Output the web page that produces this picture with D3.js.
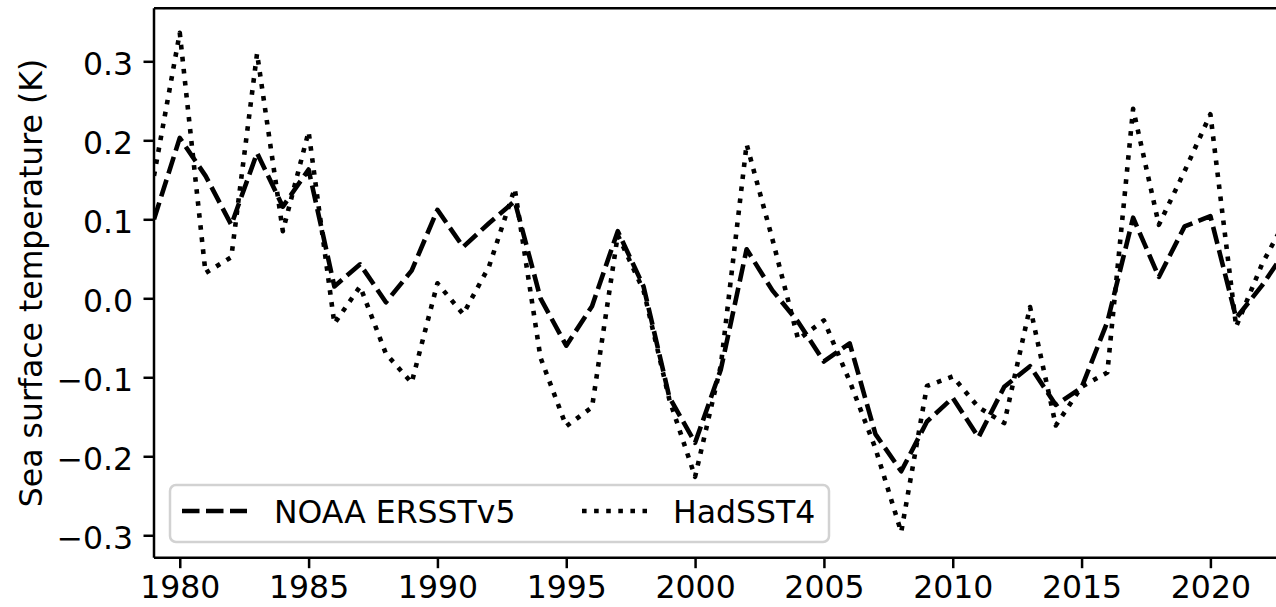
<!DOCTYPE html>
<html>
<head>
<meta charset="utf-8">
<script src="https://cdn.jsdelivr.net/npm/d3@7"></script>
<style>
  html, body { margin: 0; padding: 0; background: #fff; }
  svg { display: block; }
  text { font-family: "DejaVu Sans", sans-serif; fill: #000; }
</style>
</head>
<body>
<svg id="chart" width="1276" height="607"></svg>
<script>
// Annual sea surface temperature anomalies (K), 1979–2023
const years = d3.range(1979, 2024);

const ersstv5 = [
  0.100, 0.203, 0.155, 0.093, 0.184, 0.116, 0.163, 0.015, 0.043, -0.005,
  0.035, 0.112, 0.065, 0.095, 0.123, 0.000, -0.060, -0.010, 0.085, 0.015,
  -0.125, -0.183, -0.090, 0.062, 0.010, -0.030, -0.080, -0.057, -0.172, -0.219,
  -0.156, -0.126, -0.176, -0.112, -0.086, -0.135, -0.113, -0.030, 0.102, 0.027,
  0.091, 0.104, -0.025, 0.016, 0.064
];

const hadsst4 = [
  0.155, 0.336, 0.032, 0.052, 0.310, 0.085, 0.211, -0.032, 0.015, -0.070,
  -0.107, 0.019, -0.020, 0.040, 0.139, -0.075, -0.162, -0.138, 0.080, 0.010,
  -0.128, -0.226, -0.085, 0.195, 0.075, -0.052, -0.028, -0.105, -0.190, -0.296,
  -0.111, -0.099, -0.138, -0.158, -0.011, -0.161, -0.112, -0.094, 0.240, 0.093,
  0.161, 0.233, -0.036, 0.043, 0.104
];

const xTicks = [1980, 1985, 1990, 1995, 2000, 2005, 2010, 2015, 2020];
const yTicks = [-0.3, -0.2, -0.1, 0.0, 0.1, 0.2, 0.3];

const seriesNames = ["NOAA ERSSTv5", "HadSST4"];

// layout
const plotLeft = 154, plotRight = 1287.7, plotTop = 8.3, plotBottom = 557.7;
const fontSize = 31.5;
const lw = 4.6;
const dashPattern = "17.5,6.5";
const dotPattern = "4.6,7.5";

const svg = d3.select("#chart");
svg.append("rect").attr("width", 1276).attr("height", 607).attr("fill", "#fff");

const x = d3.scaleLinear().domain([1979, 2023]).range([plotLeft, plotRight]);
const y = d3.scaleLinear().domain([-0.3284, 0.3671]).range([plotBottom, plotTop]);

svg.append("defs").append("clipPath").attr("id", "plot-area")
  .append("rect")
  .attr("x", plotLeft).attr("y", plotTop)
  .attr("width", plotRight - plotLeft).attr("height", plotBottom - plotTop);

const line = d3.line().x(d => x(d[0])).y(d => y(d[1]));

const plot = svg.append("g").attr("clip-path", "url(#plot-area)");

plot.append("path")
  .datum(years.map((yr, i) => [yr, ersstv5[i]]))
  .attr("d", line)
  .attr("fill", "none")
  .attr("stroke", "#000")
  .attr("stroke-width", lw)
  .attr("stroke-dasharray", dashPattern)
  .attr("stroke-linejoin", "round")
  .attr("stroke-linecap", "butt");

plot.append("path")
  .datum(years.map((yr, i) => [yr, hadsst4[i]]))
  .attr("d", line)
  .attr("fill", "none")
  .attr("stroke", "#000")
  .attr("stroke-width", lw)
  .attr("stroke-dasharray", dotPattern)
  .attr("stroke-linejoin", "round")
  .attr("stroke-linecap", "butt");

// axes
const tickLen = 10.5, tickPad = 10.5;
const fmtY = d3.format(".1f");

const gx = svg.append("g")
  .attr("transform", `translate(0,${plotBottom})`)
  .call(d3.axisBottom(x).tickValues(xTicks).tickFormat(d3.format("d"))
    .tickSize(tickLen).tickPadding(tickPad));

const gy = svg.append("g")
  .attr("transform", `translate(${plotLeft},0)`)
  .call(d3.axisLeft(y).tickValues(yTicks).tickFormat(fmtY)
    .tickSize(tickLen).tickPadding(tickPad));

[gx, gy].forEach(g => {
  g.select(".domain").remove();
  g.selectAll(".tick line").attr("stroke", "#000").attr("stroke-width", 2.5);
  g.selectAll(".tick text")
    .attr("font-family", "DejaVu Sans, sans-serif")
    .attr("font-size", fontSize)
    .attr("fill", "#000");
});
gx.selectAll(".tick text").attr("dy", null).attr("y", 40);
gy.selectAll(".tick text").attr("dy", null).attr("y", 13.5);

// spines
const spine = svg.append("g").attr("fill", "none").attr("stroke", "#000").attr("stroke-width", 2.5);
spine.append("line").attr("x1", plotLeft).attr("x2", plotLeft).attr("y1", plotTop).attr("y2", plotBottom);
spine.append("line").attr("x1", plotLeft).attr("x2", plotRight).attr("y1", plotBottom).attr("y2", plotBottom);
spine.append("line").attr("x1", plotLeft).attr("x2", plotRight).attr("y1", plotTop).attr("y2", plotTop);
spine.append("line").attr("x1", plotRight).attr("x2", plotRight).attr("y1", plotTop).attr("y2", plotBottom);

// y label
svg.append("text")
  .attr("transform", `translate(41.5,${(plotTop + plotBottom) / 2}) rotate(-90)`)
  .attr("text-anchor", "middle")
  .attr("font-size", fontSize)
  .text("Sea surface temperature (K)");

// legend
const legend = svg.append("g");
legend.append("rect")
  .attr("x", 170).attr("y", 485).attr("width", 659).attr("height", 57)
  .attr("rx", 6).attr("ry", 6)
  .attr("fill", "#fff").attr("fill-opacity", 0.8)
  .attr("stroke", "#d2d2d2").attr("stroke-width", 2.5);

const legendItems = [
  { name: seriesNames[0], dash: dashPattern, x0: 182, tx: 274 },
  { name: seriesNames[1], dash: dotPattern, x0: 582, tx: 673 }
];
legendItems.forEach(it => {
  legend.append("line")
    .attr("x1", it.x0).attr("x2", it.x0 + 65)
    .attr("y1", 511).attr("y2", 511)
    .attr("stroke", "#000").attr("stroke-width", lw)
    .attr("stroke-dasharray", it.dash);
  legend.append("text")
    .attr("x", it.tx).attr("y", 522.5)
    .attr("font-size", fontSize)
    .text(it.name);
});
</script>
</body>
</html>
